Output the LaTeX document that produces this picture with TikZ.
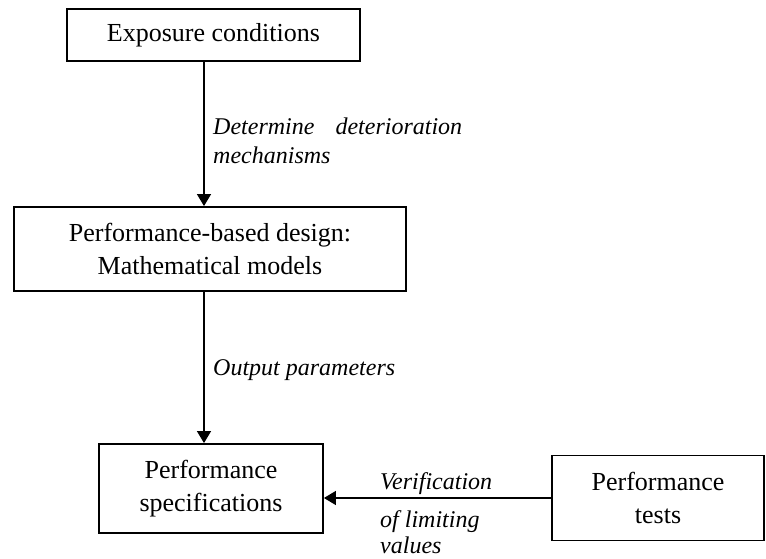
\documentclass[tikz,border=0pt]{standalone}
\usepackage{fontspec}
\setmainfont{Liberation Serif}
\usetikzlibrary{calc, arrows.meta, positioning}

\begin{document}
\begin{tikzpicture}[x=1pt, y=-1pt,
    box/.style={draw, line width=1.8pt, inner sep=0pt, align=center, font=\fontsize{26}{33}\selectfont},
    lbl/.style={inner sep=0pt, anchor=west, align=left, font=\fontsize{24}{29}\selectfont\itshape},
    flow/.style={line width=1.4pt, -{Triangle[length=12pt, width=14pt]}}]
    \useasboundingbox (0,0) rectangle (766,559);
    \node[box, minimum width=293pt, minimum height=52pt] (expo) at (213.5, 35) {Exposure conditions};
    \node[box, minimum width=392pt, minimum height=84pt] (design) at (210, 249) {Performance-based design:\\ Mathematical models};
    \node[box, minimum width=224pt, minimum height=89pt] (spec) at (211, 488.5) {Performance\\ specifications};
    \node[box, minimum width=212pt, minimum height=85pt] (tests) at (658, 498) {Performance\\ tests};
    \coordinate (axis) at (204, 0);

    \draw[flow] (expo.south -| axis) -- (design.north -| axis);
    \draw[flow] (design.south -| axis) -- (spec.north -| axis);
    \draw[flow] (tests.west) -- (spec.east |- tests.west);

    \node[lbl, text width=249pt] (mech) at (213, 141) {Determine\hfill deterioration\\ mechanisms};
    \node[lbl] (outp) at (213, 370) {Output parameters};
    \node[lbl] (verif) at (380, 513) {Verification\\[9pt] of limiting\\[-3pt] values};
\end{tikzpicture}
\end{document}
